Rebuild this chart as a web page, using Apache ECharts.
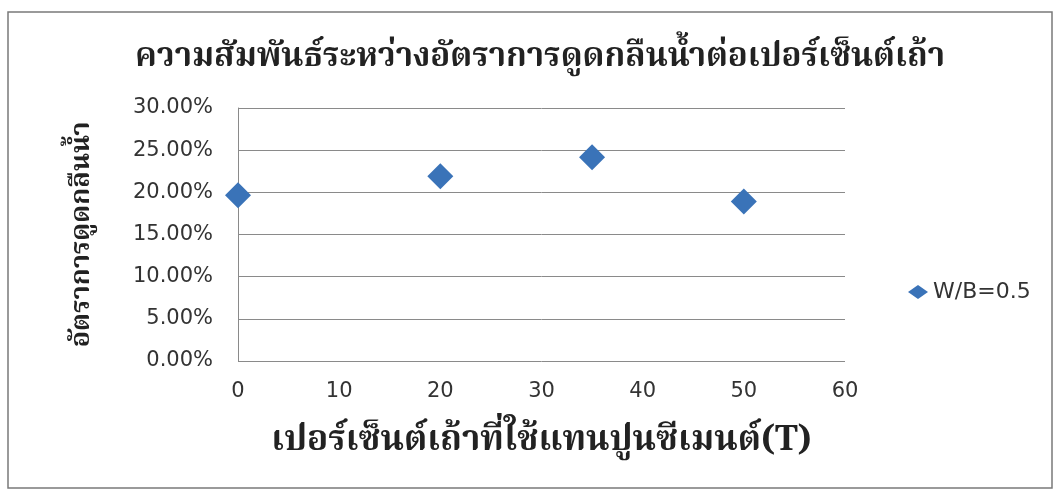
<!DOCTYPE html>
<html>
<head>
<meta charset="utf-8">
<script src="https://cdn.jsdelivr.net/npm/echarts@6/dist/echarts.min.js"></script>
<style>
  html, body { margin: 0; padding: 0; background: #fff; }
  #chart { width: 1060px; height: 494px; }
</style>
</head>
<body>
<div id="chart"></div>
<script>
var titleText = "ความสัมพันธ์ระหว่างอัตราการดูดกลืนน้ำต่อเปอร์เซ็นต์เถ้า";
var xName = "เปอร์เซ็นต์เถ้าที่ใช้แทนปูนซีเมนต์(T)";
var yName = "อัตราการดูดกลืนน้ำ";
var seriesName = "W/B=0.5";
var ashPercent = [0, 20, 35, 50];
var absorption = [0.1965, 0.219, 0.2415, 0.189];

var thaiFont = '"Noto Serif Thai", "Noto Sans Thai", "DejaVu Serif", serif';
var tickFont = '"DejaVu Sans", "Open Sans", sans-serif';

var points = ashPercent.map(function (x, i) { return [x, absorption[i]]; });

var myChart = echarts.init(document.getElementById("chart"));
var option = {
  backgroundColor: "#fff",
  animation: false,
  graphic: [{
    type: "rect",
    shape: { x: 8, y: 12, width: 1044, height: 476 },
    style: { fill: "none", stroke: "#7a7a7a", lineWidth: 1.5 },
    silent: true
  }],
  title: {
    text: titleText,
    left: 535,
    top: 39,
    textAlign: "center",
    textStyle: { fontFamily: thaiFont, fontSize: 33, fontWeight: "bold", color: "#222" }
  },
  legend: {
    left: 903,
    top: 276,
    orient: "vertical",
    itemWidth: 20,
    itemHeight: 14,
    itemGap: 6,
    data: [{ name: seriesName, icon: "diamond" }],
    textStyle: { fontFamily: tickFont, fontSize: 22, color: "#333" }
  },
  grid: { left: 238, right: 215, top: 108, bottom: 133 },
  xAxis: {
    type: "value",
    min: 0,
    max: 60,
    interval: 10,
    name: xName,
    nameLocation: "middle",
    nameGap: 66,
    nameTextStyle: { fontFamily: thaiFont, fontSize: 35, fontWeight: "bold", color: "#222" },
    axisLine: { show: false },
    axisTick: { show: false },
    splitLine: { show: false },
    axisLabel: { fontFamily: tickFont, fontSize: 21, color: "#333", margin: 20 }
  },
  yAxis: {
    type: "value",
    min: 0,
    max: 0.3,
    interval: 0.05,
    name: yName,
    nameLocation: "middle",
    nameGap: 140,
    nameRotate: 90,
    nameTextStyle: { fontFamily: thaiFont, fontSize: 27, fontWeight: "bold", color: "#222" },
    axisLine: { show: true, lineStyle: { color: "#8a8a8a", width: 1 } },
    axisTick: { show: false },
    splitLine: { show: true, lineStyle: { color: "#8a8a8a", width: 1 } },
    axisLabel: {
      fontFamily: tickFont,
      fontSize: 21,
      color: "#333",
      margin: 25,
      formatter: function (v) { return (v * 100).toFixed(2) + "%"; }
    }
  },
  series: [{
    name: seriesName,
    type: "scatter",
    symbol: "diamond",
    symbolSize: 26,
    itemStyle: { color: "#3a73b8", opacity: 1 },
    data: points
  }]
};
myChart.setOption(option);
</script>
</body>
</html>
